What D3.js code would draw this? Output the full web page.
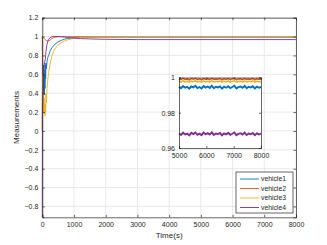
<!DOCTYPE html>
<meta charset="utf-8" />
<style>
  body { margin: 0; background: #fff; }
  text { font-family: "Liberation Sans", Arial, sans-serif; fill: #262626; }
  .grid line { stroke: #e3e3e3; stroke-width: 0.8px; }
</style>
<svg width="327" height="245"></svg>
<script src="https://d3js.org/d3.v7.min.js"></script>
<script>
  // main plot data (time in s)
  var tMain = [0, 5, 15, 25, 35, 45, 55, 65, 75, 85, 95, 105, 115, 130, 150, 175, 200, 250, 300, 350, 400, 500, 600, 700, 800, 1000, 1200, 1500, 2000, 3000, 8000];
  var v1 = [1.0, 0.85, 0.6, 0.45, 0.7, 0.4, 0.65, 0.38, 0.6, 0.45, 0.7, 0.55, 0.72, 0.66, 0.74, 0.78, 0.8, 0.85, 0.88, 0.9, 0.92, 0.945, 0.96, 0.972, 0.98, 0.988, 0.992, 0.994, 0.9945, 0.9945, 0.9945];
  var v2 = [0, 1.0, 0.998, 0.995, 0.99, 0.986, 0.982, 0.978, 0.974, 0.97, 0.967, 0.964, 0.961, 0.958, 0.955, 0.953, 0.955, 0.965, 0.978, 0.988, 0.994, 0.998, 0.999, 0.999, 0.999, 0.999, 0.999, 0.999, 0.999, 0.999, 0.999];
  var v3 = [0, 0.6, 0.35, 0.25, 0.4, 0.2, 0.35, 0.18, 0.3, 0.16, 0.28, 0.2, 0.4, 0.3, 0.45, 0.55, 0.62, 0.72, 0.79, 0.84, 0.87, 0.91, 0.935, 0.953, 0.966, 0.982, 0.99, 0.995, 0.997, 0.9977, 0.9977];
  var v4 = [-0.915, 0.3, 0.35, 0.42, 0.5, 0.58, 0.65, 0.7, 0.73, 0.75, 0.76, 0.8, 0.84, 0.88, 0.92, 0.95, 0.97, 0.99, 0.997, 1.0, 1.0, 1.0, 0.998, 0.995, 0.99, 0.984, 0.979, 0.975, 0.971, 0.968, 0.968];

  // inset data, 5000..8000 s
  var tZoom = d3.range(5000, 8001, 75);
  var z1 = [0.9948,0.9939,0.9951,0.9942,0.9947,0.9937,0.9950,0.9944,0.9953,0.9940,0.9946,0.9938,0.9952,0.9943,0.9949,0.9941,0.9954,0.9939,0.9947,0.9944,0.9950,0.9937,0.9948,0.9942,0.9951,0.9940,0.9946,0.9953,0.9938,0.9945,0.9949,0.9941,0.9952,0.9939,0.9947,0.9943,0.9950,0.9938,0.9948,0.9942,0.9946];
  var z2 = [0.9993,0.9988,0.9995,0.9989,0.9992,0.9987,0.9994,0.9990,0.9995,0.9988,0.9992,0.9987,0.9994,0.9989,0.9993,0.9988,0.9995,0.9989,0.9992,0.9990,0.9994,0.9987,0.9993,0.9989,0.9994,0.9988,0.9992,0.9995,0.9987,0.9991,0.9993,0.9988,0.9994,0.9989,0.9992,0.9990,0.9994,0.9987,0.9993,0.9989,0.9991];
  var z3 = [0.9979,0.9974,0.9981,0.9975,0.9978,0.9973,0.9980,0.9976,0.9981,0.9974,0.9978,0.9973,0.9980,0.9975,0.9979,0.9974,0.9981,0.9975,0.9978,0.9976,0.9980,0.9973,0.9979,0.9975,0.9980,0.9974,0.9978,0.9981,0.9973,0.9977,0.9979,0.9974,0.9980,0.9975,0.9978,0.9976,0.9980,0.9973,0.9979,0.9975,0.9977];
  var z4 = [0.9683,0.9674,0.9687,0.9677,0.9682,0.9672,0.9686,0.9679,0.9688,0.9675,0.9681,0.9673,0.9687,0.9678,0.9684,0.9676,0.9689,0.9674,0.9682,0.9679,0.9685,0.9672,0.9683,0.9677,0.9686,0.9675,0.9681,0.9688,0.9673,0.9680,0.9684,0.9676,0.9687,0.9674,0.9682,0.9678,0.9685,0.9673,0.9683,0.9677,0.9681];

  var names = ["vehicle1", "vehicle2", "vehicle3", "vehicle4"];
  var colors = ["#0072BD", "#D95319", "#EDB120", "#7E2F8E"];
  var xTicks = [0, 1000, 2000, 3000, 4000, 5000, 6000, 7000, 8000];
  var yTicks = [-0.8, -0.6, -0.4, -0.2, 0, 0.2, 0.4, 0.6, 0.8, 1, 1.2];
  var zxTicks = [5000, 6000, 7000, 8000];
  var zyTicks = [0.96, 0.98, 1];

  var svg = d3.select("svg");
  var axColor = "#262626";

  var L = 42.3, R = 296, T = 17.7, B = 217.3;
  var x = d3.scaleLinear().domain([0, 8000]).range([L, R]);
  var y = d3.scaleLinear().domain([-0.915, 1.2]).range([B, T]);

  // grid
  var grid = svg.append("g").attr("class", "grid");
  grid.selectAll(".gx").data(xTicks).enter().append("line")
    .attr("x1", x).attr("x2", x).attr("y1", T).attr("y2", B);
  grid.selectAll(".gy").data(yTicks).enter().append("line")
    .attr("y1", y).attr("y2", y).attr("x1", L).attr("x2", R);

  var line = d3.line()
    .x(function (d) { return x(d[0]); })
    .y(function (d) { return y(d[1]); });

  var series = [v1, v2, v3, v4];
  series.forEach(function (s, i) {
    svg.append("path")
      .datum(tMain.map(function (t, j) { return [t, s[j]]; }))
      .attr("d", line)
      .attr("fill", "none")
      .attr("stroke", colors[i])
      .attr("stroke-width", 0.9);
  });

  // axes, ticks inward on all sides
  function boxAxes(g, xs, ys, xt, yt, fmtY, tl) {
    g.append("g").attr("transform", "translate(0," + ys.range()[0] + ")")
      .call(d3.axisBottom(xs).tickValues(xt).tickSize(-tl).tickPadding(5).tickFormat(d3.format("d")));
    g.append("g").attr("transform", "translate(0," + ys.range()[1] + ")")
      .call(d3.axisTop(xs).tickValues(xt).tickSize(-tl).tickFormat(""));
    g.append("g").attr("transform", "translate(" + xs.range()[0] + ",0)")
      .call(d3.axisLeft(ys).tickValues(yt).tickSize(-tl).tickPadding(4).tickFormat(fmtY));
    g.append("g").attr("transform", "translate(" + xs.range()[1] + ",0)")
      .call(d3.axisRight(ys).tickValues(yt).tickSize(-tl).tickFormat(""));
    g.selectAll(".domain").attr("stroke", axColor).attr("stroke-width", 0.7);
    g.selectAll(".tick line").attr("stroke", axColor).attr("stroke-width", 0.7);
    g.selectAll(".tick text").attr("font-size", 7).attr("fill", axColor)
      .style("font-family", "'Liberation Sans', Arial, sans-serif");
  }

  var yFmt = function (d) { return d3.format("")(+d.toFixed(1)); };
  var axG = svg.append("g");
  boxAxes(axG, x, y, xTicks, yTicks, yFmt, 2.5);

  svg.append("text").attr("x", (L + R) / 2).attr("y", 238)
    .attr("text-anchor", "middle").attr("font-size", 8).text("Time(s)");
  svg.append("text").attr("transform", "translate(19," + ((T + B) / 2) + ") rotate(-90)")
    .attr("text-anchor", "middle").attr("font-size", 8).text("Measurements");

  // inset
  var zx = d3.scaleLinear().domain([5000, 8000]).range([179, 261]);
  var zy = d3.scaleLinear().domain([0.96, 1]).range([148, 77.5]);
  svg.append("rect").attr("x", 179).attr("y", 77.5).attr("width", 82).attr("height", 70.5).attr("fill", "#fff");
  var zline = d3.line()
    .x(function (d) { return zx(d[0]); })
    .y(function (d) { return zy(d[1]); });
  var zWidths = [1.9, 1.5, 1.5, 1.9];
  [z1, z2, z3, z4].forEach(function (s, i) {
    svg.append("path")
      .datum(tZoom.map(function (t, j) { return [t, s[j]]; }))
      .attr("d", zline)
      .attr("fill", "none")
      .attr("stroke", colors[i])
      .attr("stroke-width", zWidths[i]);
  });
  var inG = svg.append("g");
  boxAxes(inG, zx, zy, zxTicks, zyTicks, function (d) { return d3.format("")(+d.toFixed(2)); }, 2);

  // legend
  var lg = svg.append("g");
  lg.append("rect").attr("x", 236).attr("y", 172).attr("width", 57).attr("height", 41)
    .attr("fill", "#fff").attr("stroke", axColor).attr("stroke-width", 0.7);
  var ly = d3.scalePoint().domain(names).range([179, 207.5]);
  names.forEach(function (n, i) {
    lg.append("line").attr("x1", 240).attr("x2", 259).attr("y1", ly(n)).attr("y2", ly(n))
      .attr("stroke", colors[i]).attr("stroke-width", 0.9);
    lg.append("text").attr("x", 261).attr("y", ly(n)).attr("dy", "0.35em")
      .attr("font-size", 6.8).text(n);
  });
</script>
